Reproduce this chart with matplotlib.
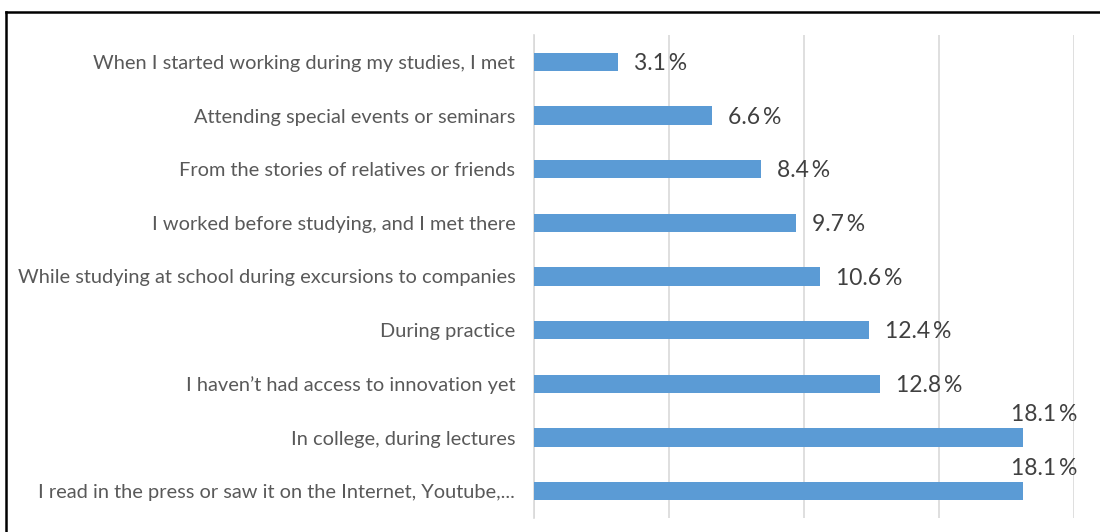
import matplotlib.pyplot as plt
from matplotlib.lines import Line2D

# answers, top to bottom, with share of respondents (%)
categories = [
    "When I started working during my studies, I met",
    "Attending special events or seminars",
    "From the stories of relatives or friends",
    "I worked before studying, and I met there",
    "While studying at school during excursions to companies",
    "During practice",
    "I haven\u2019t had access to innovation yet",
    "In college, during lectures",
    "I read in the press or saw it on the Internet, Youtube,...",
]
shares = [3.1, 6.6, 8.4, 9.7, 10.6, 12.4, 12.8, 18.1, 18.1]

BAR_COLOR = "#5b9bd5"
GRID_COLOR = "#d9d9d9"

plt.rcParams["font.family"] = ["Lato", "DejaVu Sans"]

fig = plt.figure(figsize=(11, 5.32), dpi=100)
ax = fig.add_axes([534 / 1100, 14 / 532, 540 / 1100, 483 / 532])

ypos = list(range(len(categories)))
ax.barh(ypos, shares, height=0.34, color=BAR_COLOR, zorder=3)

ax.set_xlim(0, 20)
ax.set_ylim(len(categories) - 0.5, -0.5)
ax.set_xticks([0, 5, 10, 15, 20])
ax.xaxis.grid(True, color=GRID_COLOR, linewidth=1.2, zorder=0)
ax.tick_params(axis="x", length=0, labelbottom=False)
ax.tick_params(axis="y", length=0, pad=13.5, labelsize=14.4, labelcolor="#595959")
ax.set_yticks(ypos)
ax.set_yticklabels(categories)
for side in ["top", "right", "bottom"]:
    ax.spines[side].set_visible(False)
ax.spines["left"].set_color(GRID_COLOR)
ax.spines["left"].set_linewidth(1.2)

# value labels; the two longest bars get theirs above the bar end
for y, v in zip(ypos, shares):
    txt = f"{v:.1f}\u2009%"
    if v > 17:
        ax.text(v + 0.8, y - 0.42, txt, ha="center", va="center",
                fontsize=16.5, color="#404040", family=["Lato", "DejaVu Sans"])
    else:
        ax.text(v + 0.6, y + 0.03, txt, ha="left", va="center",
                fontsize=16.5, color="#404040", family=["Lato", "DejaVu Sans"])

# frame around the chart (top and left edges)
fig.add_artist(Line2D([6 / 1100, 1.0], [1 - 12 / 532, 1 - 12 / 532],
                      transform=fig.transFigure, color="black", linewidth=1.8))
fig.add_artist(Line2D([6 / 1100, 6 / 1100], [0, 1 - 12 / 532],
                      transform=fig.transFigure, color="black", linewidth=1.8))

fig.savefig("out.png", dpi=100)
